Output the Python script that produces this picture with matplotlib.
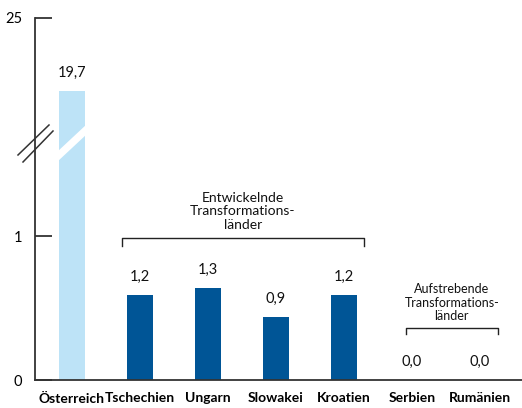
import numpy as np
import matplotlib
matplotlib.use("Agg")
import matplotlib.pyplot as plt
from matplotlib.patches import Polygon

# ---- data ----
categories = ["Österreich", "Tschechien", "Ungarn", "Slowakei", "Kroatien", "Serbien", "Rumänien"]
values = [19.7, 1.2, 1.3, 0.9, 1.2, 0.0, 0.0]
value_labels = ["19,7", "1,2", "1,3", "0,9", "1,2", "0,0", "0,0"]
tick_values = [0, 2.04, 25]
tick_labels = ["0", "1", "25"]
group1_label = "Entwickelnde\nTransformations-\nländer"
group2_label = "Aufstrebende\nTransformations-\nländer"

LIGHT = "#bde3f7"
DARK = "#005596"
FONT = ["Lato", "DejaVu Sans"]
plt.rcParams["font.family"] = FONT

# broken (piecewise) value scale
knots_data = np.array([0.0, 2.5, 19.7, 25.0])
knots_disp = np.array([0.0, 2.5, 4.10, 5.14])

def fwd(v):
    v = np.asarray(v, dtype=float)
    return np.interp(v, knots_data, knots_disp, left=-1e-9, right=knots_disp[-1] + (v.max() if v.size else 0) * 0)

def inv(d):
    d = np.asarray(d, dtype=float)
    return np.interp(d, knots_disp, knots_data)

fig = plt.figure(figsize=(5.22, 4.08), dpi=100)
L, R, B, T = 35, 522, 380, 17.5
W, H = 522, 408
ax = fig.add_axes([L / W, (H - B) / H, (R - L) / W, (B - T) / H])
ax.set_yscale("function", functions=(fwd, inv))

x = np.arange(len(categories))
colors = [LIGHT] + [DARK] * (len(categories) - 1)
ax.bar(x, values, width=0.382, color=colors, zorder=2)

ax.set_xlim(-0.544, 6.618)
ax.set_ylim(0, 25)

for s in ["top", "right"]:
    ax.spines[s].set_visible(False)
for s in ["left", "bottom"]:
    ax.spines[s].set_color("#333333")
    ax.spines[s].set_linewidth(1.3)

ax.set_yticks(tick_values)
ax.set_yticklabels(tick_labels)
ax.yaxis.set_minor_locator(matplotlib.ticker.NullLocator())
ax.tick_params(axis="y", direction="in", length=12, width=1.3, color="#333333",
               pad=9, labelsize=10.5)
ax.tick_params(axis="x", length=0, pad=9, labelsize=10)
ax.set_xticks(x)
ax.set_xticklabels(categories, fontweight="bold")

# value labels
for xi, v, lab in zip(x, values, value_labels):
    ax.annotate(lab, (xi, v), xytext=(0, 8), textcoords="offset points",
                ha="center", va="bottom", fontsize=10.5, color="#111111")

# white break stripe on the Österreich bar (pixel -> axes fraction)
def af(px, py):
    return ((px - L) / (R - L), (B - py) / (B - T))

stripe = Polygon([af(57, 152), af(87, 124), af(87, 134), af(57, 162)],
                 closed=True, transform=ax.transAxes, facecolor="white",
                 edgecolor="none", zorder=3)
ax.add_patch(stripe)

# break marks on axis
for (p1, p2) in [((18, 155), (49, 125)), ((23, 162), (53, 131))]:
    a1, a2 = af(*p1), af(*p2)
    ax.plot([a1[0], a2[0]], [a1[1], a2[1]], transform=ax.transAxes,
            color="#333333", lw=1.1, clip_on=False, zorder=5)

# group brackets
def bracket(x0, x1, ytop, ybot, label, fs, text_gap):
    ax.plot([x0, x0, x1, x1], [ybot, ytop, ytop, ybot], color="#222222",
            lw=1.0, clip_on=False, zorder=4)
    ax.annotate(label, ((x0 + x1) / 2, ytop), xytext=(0, text_gap),
                textcoords="offset points", ha="center", va="bottom",
                fontsize=fs, linespacing=1.15, color="#111111")

bracket(0.735, 4.294, 2.02, 1.90, group1_label, 10, 5)
bracket(4.91, 6.26, 0.74, 0.65, group2_label, 9, 4)

fig.savefig("out.png", dpi=100)
